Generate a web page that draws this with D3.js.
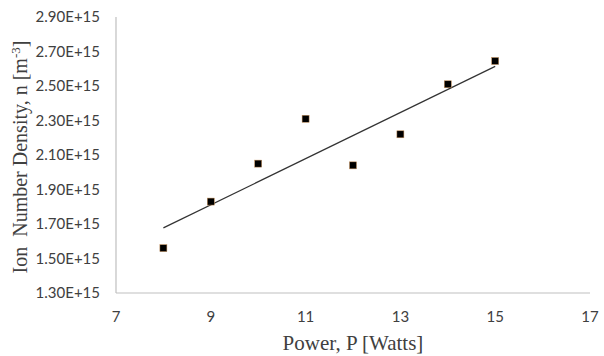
<!DOCTYPE html>
<html>
<head>
<meta charset="utf-8">
<script src="https://cdn.jsdelivr.net/npm/d3@7"></script>
<style>
  body { margin: 0; background: #fff; }
</style>
</head>
<body>
<svg width="604" height="356"></svg>
<script>
// power (W) vs ion number density (m^-3), with linear trendline
var power = [8, 9, 10, 11, 12, 13, 14, 15];
var density = [1.56e15, 1.83e15, 2.05e15, 2.31e15, 2.04e15, 2.22e15, 2.51e15, 2.645e15];
var xTicks = [7, 9, 11, 13, 15, 17];
var yTicks = [1.3e15, 1.5e15, 1.7e15, 1.9e15, 2.1e15, 2.3e15, 2.5e15, 2.7e15, 2.9e15];

var svg = d3.select("svg");

var x = d3.scaleLinear().domain([7, 17]).range([116, 590]);
var y = d3.scaleLinear().domain([1.3e15, 2.9e15]).range([293, 17]);

function sci(v) {
  var m = v / 1e15;
  return m.toFixed(2) + "E+15";
}

var tickFont = "Lato, 'Open Sans', sans-serif";

// axis lines
svg.append("line")
  .attr("x1", x(7)).attr("x2", x(7))
  .attr("y1", y(2.9e15)).attr("y2", y(1.3e15))
  .attr("stroke", "#bfbfbf").attr("stroke-width", 1.2);
svg.append("line")
  .attr("x1", x(7)).attr("x2", x(17))
  .attr("y1", y(1.3e15)).attr("y2", y(1.3e15))
  .attr("stroke", "#bfbfbf").attr("stroke-width", 1.2);

// y tick labels
svg.append("g").selectAll("text")
  .data(yTicks).enter().append("text")
  .attr("x", 100)
  .attr("y", function(d) { return y(d); })
  .attr("dy", "0.35em")
  .attr("text-anchor", "end")
  .attr("font-family", tickFont)
  .attr("font-size", 15)
  .attr("fill", "#404040")
  .text(sci);

// x tick labels
svg.append("g").selectAll("text")
  .data(xTicks).enter().append("text")
  .attr("x", function(d) { return x(d); })
  .attr("y", 322)
  .attr("text-anchor", "middle")
  .attr("font-family", tickFont)
  .attr("font-size", 15)
  .attr("fill", "#404040")
  .text(function(d) { return d; });

// trendline (least squares fit of the points)
var mx = d3.mean(power), my = d3.mean(density);
var sxy = d3.sum(power, function(p, i) { return (p - mx) * (density[i] - my); });
var sxx = d3.sum(power, function(p) { return (p - mx) * (p - mx); });
var slope = sxy / sxx, icpt = my - slope * mx;
var x0 = d3.min(power), x1 = d3.max(power);
svg.append("line")
  .attr("x1", x(x0)).attr("y1", y(icpt + slope * x0))
  .attr("x2", x(x1)).attr("y2", y(icpt + slope * x1))
  .attr("stroke", "#333").attr("stroke-width", 1.2);

// markers
svg.append("g").selectAll("rect")
  .data(power).enter().append("rect")
  .attr("x", function(d) { return x(d) - 3.5; })
  .attr("y", function(d, i) { return y(density[i]) - 3.5; })
  .attr("width", 7).attr("height", 7)
  .attr("fill", "#000")
  .attr("stroke", "#c8915a").attr("stroke-width", 0.5);

// axis titles
svg.append("text")
  .attr("x", 353).attr("y", 350)
  .attr("text-anchor", "middle")
  .attr("font-family", "'Liberation Serif', serif")
  .attr("font-size", 21)
  .attr("fill", "#404040")
  .text("Power, P [Watts]");

var yt = svg.append("text")
  .attr("transform", "translate(27,157) rotate(-90)")
  .attr("text-anchor", "middle")
  .attr("font-family", "'Liberation Serif', serif")
  .attr("font-size", 20)
  .attr("fill", "#404040")
  .attr("xml:space", "preserve");
yt.append("tspan").text("Ion  Number Density, n [m");
yt.append("tspan").attr("dy", -7).attr("font-size", 13).text("-3");
yt.append("tspan").attr("dy", 7).text("]");
</script>
</body>
</html>
